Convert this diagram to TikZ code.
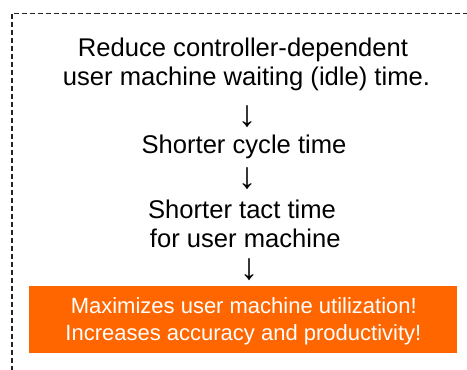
\documentclass[tikz,border=0pt]{standalone}
\usepackage{fontspec}
\setmainfont{Liberation Sans}
\definecolor{boxorange}{HTML}{FF6600}
\definecolor{frameGray}{HTML}{222222}
\begin{document}
\begin{tikzpicture}[x=1pt,y=-1pt,
  frame/.style={draw=frameGray,line width=1.1pt,dash pattern=on 5pt off 3pt},
  txt/.style={anchor=base,inner sep=0pt,font=\fontsize{25.6}{29}\selectfont},
  arr/.style={anchor=base,inner sep=0pt,font=\fontsize{37}{40}\selectfont},
  wtxt/.style={anchor=base,inner sep=0pt,text=white,font=\fontsize{22}{27}\selectfont},
  hilite/.style={fill=boxorange,draw=none}]
\useasboundingbox (0,0) rectangle (467,370);
\coordinate (fb) at (12,371);
\coordinate (fc) at (12,13.5);
\coordinate (fr) at (468,13.5);
\draw[frame] (fb) -- (fc) -- (fr);
\node[txt] (l1) at (243,56) {Reduce controller-dependent};
\node[txt] (l2) at (246.5,85) {user machine waiting (idle) time.};
\node[arr] (a1) at (247,126) {↓};
\node[txt] (l3) at (244,153) {Shorter cycle time};
\node[arr] (a2) at (247,188) {↓};
\node[txt] (l4) at (242,218) {Shorter tact time};
\node[txt] (l5) at (245.3,247) {for user machine};
\node[arr] (a3) at (249,279.5) {↓};
\path[hilite] (29,286) rectangle (456.7,352.7);
\node[wtxt] (b1) at (243.8,313) {Maximizes user machine utilization!};
\node[wtxt] (b2) at (243.4,340.5) {Increases accuracy and productivity!};
\end{tikzpicture}
\end{document}
